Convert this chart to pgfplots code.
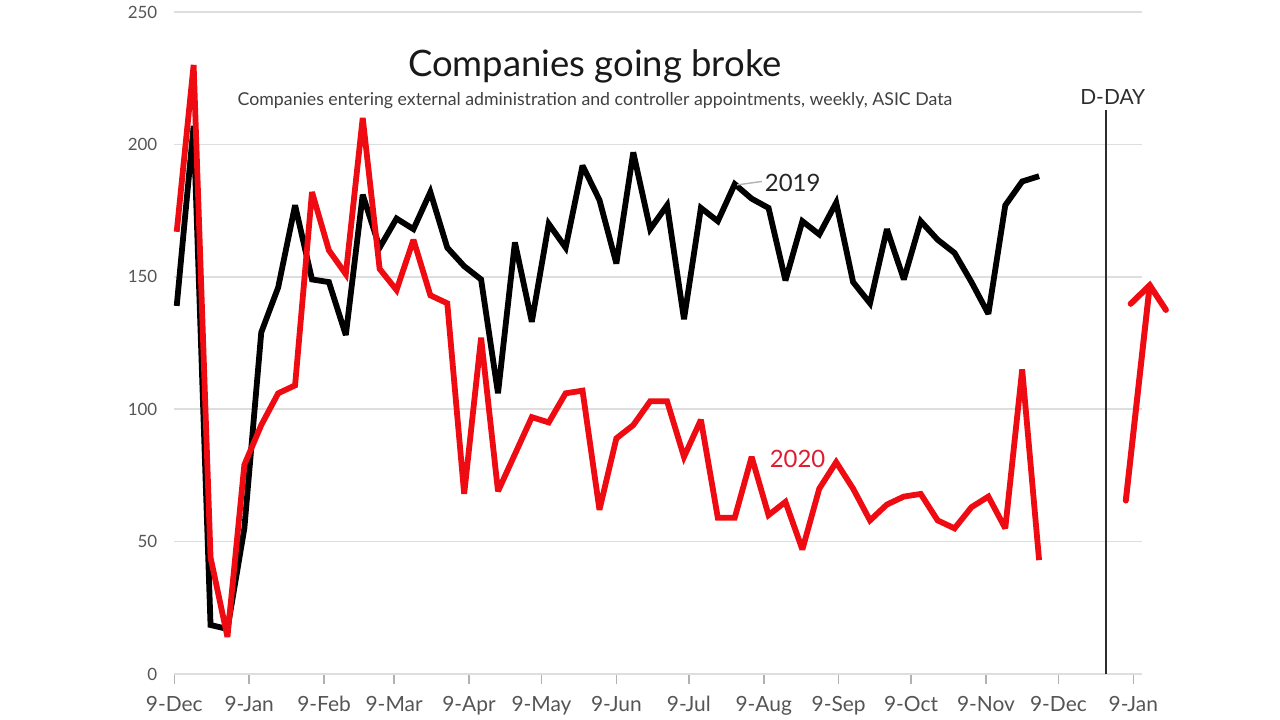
\documentclass[border=0pt]{standalone}
\usepackage{fontspec}
\setmainfont{Lato}
\usepackage{pgfplots}
\pgfplotsset{compat=1.18}
\usetikzlibrary{arrows.meta}
\definecolor{lred}{RGB}{238,12,18}
\definecolor{tred}{RGB}{222,30,48}
\definecolor{gridc}{RGB}{222,222,222}
\definecolor{tickc}{RGB}{85,85,85}
\definecolor{ddayc}{RGB}{45,45,45}
\begin{document}
\begin{tikzpicture}
\path[use as bounding box] (0,0) rectangle (640bp,360bp);
\begin{axis}[
  at={(87.15bp,23bp)}, anchor=south west,
  scale only axis, width=483.85bp, height=331bp,
  xmin=0, xmax=400.6, ymin=0, ymax=250,
  axis x line*=bottom, axis y line*=left,
  x axis line style={gridc, line width=0.9bp},
  y axis line style={draw=none},
  ytick={0,50,100,150,200,250},
  ytick style={draw=none},
  xtick={0,31,62,91,122,152,183,213,244,275,305,336,366,397},
  xticklabels={9-Dec,9-Jan,9-Feb,9-Mar,9-Apr,9-May,9-Jun,9-Jul,9-Aug,9-Sep,9-Oct,9-Nov,9-Dec,9-Jan},
  xtick style={gridc!80!black, line width=0.8bp},
  tick align=outside, major tick length=5bp,
  ymajorgrids, grid style={gridc, line width=0.8bp},
  /pgf/number format/assume math mode=true,
  yticklabel style={font=\fontsize{8.5}{10}\selectfont, text=tickc},
  xticklabel style={font=\fontsize{10.5}{12}\selectfont, text=tickc, yshift=-2.5bp},
  clip=false,
]
% 2019
\addplot[black, line width=2.9bp, line join=miter, miter limit=3] coordinates {
(1,139) (8,207) (15,18.5) (22,17) (29,55) (36,129) (43,146) (50,177) (57,149) (64,148)
(71,128) (78,181) (85,161) (92,172) (99,168) (106,182) (113,161) (120,154) (127,149) (134,106)
(141,163) (148,133) (155,170) (162,161) (169,192) (176,179) (183,155) (190,197) (197,168) (204,177)
(211,134) (218,176) (225,171) (232,185) (239,179.5) (246,176) (253,148.6) (260,171) (267,166) (274,178)
(281,148) (288,140) (295,168) (302,149) (309,171) (316,164) (323,159) (330,148) (337,136) (344,177)
(351,186) (358,188)
};
% 2020
\addplot[lred, line width=2.9bp, line join=miter, miter limit=3] coordinates {
(1,167) (8,230) (15,44) (22,14) (29,79) (36,94) (43,106) (50,109) (57,182) (64,160)
(71,151) (78,210) (85,153) (92,145) (99,164) (106,143) (113,140) (120,68) (127,127) (134,69)
(141,83) (148,97) (155,95) (162,106) (169,107) (176,62) (183,89) (190,94) (197,103) (204,103)
(211,82) (218,96) (225,59) (232,59) (239,82) (246,60) (253,65) (260,47) (267,70) (274,80)
(281,70) (288,58) (295,64) (302,67) (309,68) (316,58) (323,55) (330,63) (337,67) (344,55)
(351,115) (358,43)
};
% D-DAY line
\addplot[ddayc, line width=1bp] coordinates {(385.6,0) (385.6,213)};
\node[font=\fontsize{10.5}{12}\selectfont, text=ddayc] at (axis cs:388.5,218) {D-DAY};
% arrow
\addplot[lred, line width=3bp, line cap=round] coordinates {(393.9,65.5) (403.8,146.8)};
\addplot[lred, line width=3bp, line cap=round, line join=miter] coordinates {(395.9,139.8) (403.8,146.8) (410.5,137.5)};
% labels
\addplot[gray!60, line width=0.7bp] coordinates {(233,184.7) (243.2,186)};
\node[font=\fontsize{12}{14}\selectfont, text=black!85] at (axis cs:256,185.4) {2019};
\node[font=\fontsize{12}{14}\selectfont, text=tred] at (axis cs:258,81.2) {2020};
\end{axis}
\node[font=\fontsize{18.3}{21}\selectfont, text=black!90] at (297.5bp,327bp) {Companies going broke};
\node[font=\fontsize{8.9}{10}\selectfont, text=black!75] at (297.5bp,309.5bp) {Companies entering external administration and controller appointments, weekly, ASIC Data};
\end{tikzpicture}
\end{document}
